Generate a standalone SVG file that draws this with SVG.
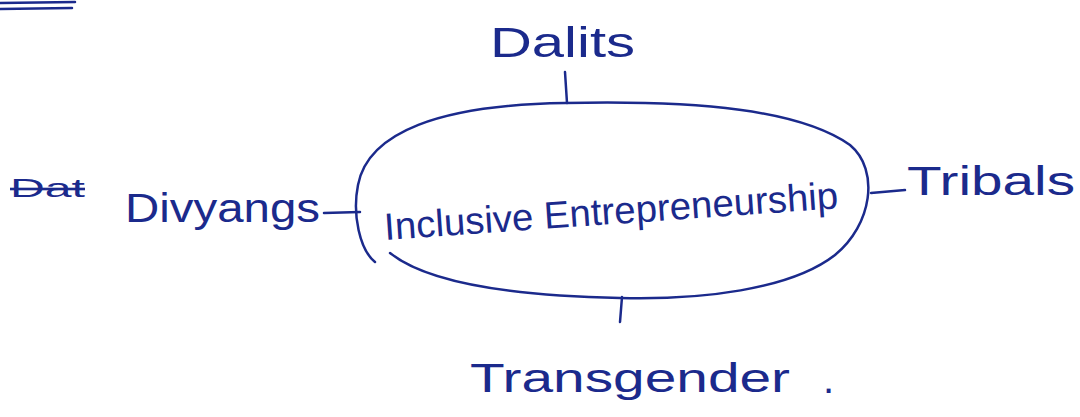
<svg xmlns="http://www.w3.org/2000/svg" width="1080" height="417" viewBox="0 0 1080 417">
<style>
.ink{fill:none;stroke:#1b2a8c;stroke-width:2.5;stroke-linecap:round;stroke-linejoin:round}
.lbl{font-family:"Liberation Sans","DejaVu Sans",sans-serif;fill:#1b2a8c}
</style>
<rect width="1080" height="417" fill="#ffffff"/>
<g id="rule">
<path class="ink" d="M0 3 L75 2 M0 9 L72 8"/>
</g>
<g id="connectors">
<path class="ink" d="M565 72 L567 103"/>
<path class="ink" d="M324 213 L360 212"/>
<path class="ink" d="M871 193 L905 190"/>
<path class="ink" d="M622 297 L620 322"/>
</g>
<g id="center">
<path class="ink" d="M375 262 C360 250 352 215 358 185 C368 132 440 105 565 103 C700 100 800 110 850 145 C880 170 872 225 835 255 C790 290 700 300 620 298 C520 296 430 285 390 253"/>
<text class="lbl" x="385" y="240" font-size="38" textLength="455" lengthAdjust="spacingAndGlyphs" transform="rotate(-4 385 240)">Inclusive Entrepreneurship</text>
</g>
<g id="dalits">
<text class="lbl" x="490" y="57" font-size="42" textLength="145" lengthAdjust="spacingAndGlyphs">Dalits</text>
</g>
<g id="divyangs">
<text class="lbl" x="10" y="197" font-size="26" textLength="75" lengthAdjust="spacingAndGlyphs" text-decoration="line-through">Dat</text>
<text class="lbl" x="125" y="222" font-size="40" textLength="195" lengthAdjust="spacingAndGlyphs">Divyangs</text>
</g>
<g id="tribals">
<text class="lbl" x="907" y="195" font-size="40" textLength="168" lengthAdjust="spacingAndGlyphs">Tribals</text>
</g>
<g id="transgender">
<text class="lbl" x="470" y="392" font-size="40" textLength="320" lengthAdjust="spacingAndGlyphs">Transgender</text>
<text class="lbl" x="823" y="393" font-size="40">.</text>
</g>
</svg>
